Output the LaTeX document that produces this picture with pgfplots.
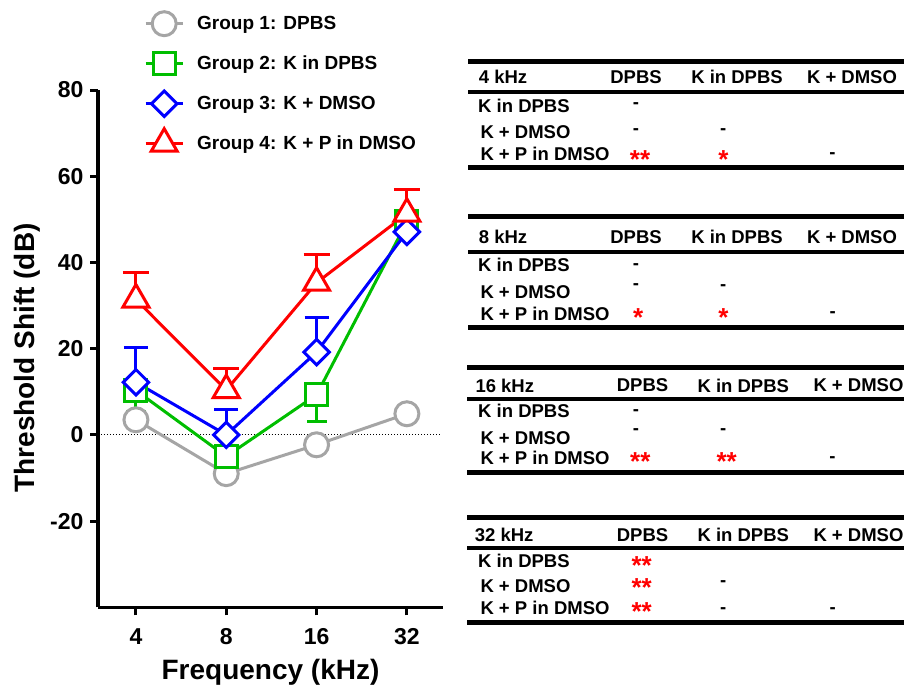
\documentclass[border=0pt]{standalone}
\usepackage{fontspec}
\setmainfont{Liberation Sans}
\usepackage{pgfplots}
\pgfplotsset{compat=1.18}
\newcommand\fs[1]{\fontsize{#1bp}{#1bp}\selectfont\bfseries}
\definecolor{cgray}{RGB}{165,165,165}
\definecolor{cgreen}{RGB}{0,190,0}
\definecolor{cblue}{RGB}{0,0,255}
\definecolor{cred}{RGB}{255,0,0}
\tikzset{
  tt/.style={inner sep=0pt, font=\fs{18.5}, anchor=west},
  th/.style={inner sep=0pt, font=\fs{18.5}, anchor=center},
  ds/.style={inner sep=0pt, font=\fs{18.5}, anchor=base},
  st/.style={inner sep=0pt, font=\fs{26}, anchor=base, text=cred},
}
\begin{document}
\begin{tikzpicture}
\path[use as bounding box] (0bp,0bp) rectangle (904bp,-687bp);
\begin{axis}[
  at={(98bp,-607.3bp)}, anchor=south west,
  scale only axis, width=345bp, height=517.3bp,
  xmin=-0.42, xmax=3.4, ymin=-40, ymax=80,
  axis x line*=bottom, axis y line*=left,
  axis line style={line width=3bp, -},
  every outer x axis line/.append style={-},
  every outer y axis line/.append style={-},
  xtick={0,1,2,3}, xticklabels={4,8,16,32},
  ytick={-20,0,20,40,60,80},
  tick align=outside, major tick length=8bp,
  tick style={line width=3bp, black},
  ticklabel style={font=\fs{23}},
  xticklabel style={yshift=-10bp},
  yticklabel style={xshift=-3bp},
  /pgf/number format/assume math mode=true,
  xlabel={Frequency (kHz)}, ylabel={Threshold Shift (dB)},
  every axis x label/.style={at={(axis description cs:0.5,-0.125)}, anchor=center, font=\fs{28}},
  every axis y label/.style={at={(axis description cs:-0.206,0.482)}, rotate=90, anchor=center, font=\fs{28}},
  clip=false,
  legend style={at={(axis description cs:0.1377,1.1479)}, anchor=north west, draw=none, fill=none,
    inner sep=0pt, row sep=20bp, column sep=12.5bp, font=\fs{19}, cells={anchor=west}},
  legend image code/.code={%
    \begin{pgfinterruptboundingbox}
    \draw[mark repeat=2,mark phase=2] plot coordinates {(0bp,0bp) (18.5bp,0bp) (37bp,0bp)};
    \end{pgfinterruptboundingbox}
    \path[draw=none, fill=none] (0bp,-10bp) rectangle (37bp,10bp);},
]
\addplot[black, line width=1bp, dotted, forget plot] coordinates {(-0.42,0) (3.39,0)};
\addplot[cgray, line width=3bp, mark=*, mark size=12bp, mark options={solid, fill=white, draw=cgray}]
  table[x=x, y=y] {
x y
0 3.5
1 -9.0
2 -2.3
3 4.9
};
\addlegendentry{Group 1: DPBS}
\addplot[cgreen, line width=3bp, mark=square*, mark size=11bp, mark options={solid, fill=white, draw=cgreen},
  error bars/.cd, y dir=minus, y explicit, error bar style={line width=3bp, solid, cgreen},
  error mark=-, error mark options={rotate=90, line width=3bp, mark size=10bp, cgreen}]
  table[x=x, y=y, y error=e] {
x y e
0 10.3 4.8
1 -5.0 2.7
2 9.3 6.2
3 49.4 1.5
};
\addlegendentry{Group 2: K in DPBS}
\addplot[cblue, line width=3bp, mark=square*, mark size=9bp, mark options={solid, fill=white, draw=cblue, rotate=45},
  error bars/.cd, y dir=plus, y explicit, error bar style={line width=3bp, solid, cblue},
  error mark=-, error mark options={rotate=90, line width=3bp, mark size=12bp, cblue}]
  table[x=x, y=y, y error=e] {
x y e
0 12.2 8.0
1 0.0 6.0
2 19.2 8.0
3 47.1 1.5
};
\addlegendentry{Group 3: K + DMSO}
\addplot[cred, line width=3bp, mark=triangle*, mark size=15bp, mark options={solid, fill=white, draw=cred},
  error bars/.cd, y dir=plus, y explicit, error bar style={line width=3bp, solid, cred},
  error mark=-, error mark options={rotate=90, line width=3bp, mark size=13bp, cred}]
  table[x=x, y=y, y error=e] {
x y e
0 31.4 6.2
1 10.4 5.0
2 35.3 6.6
3 51.3 5.7
};
\addlegendentry{Group 4: K + P in DMSO}
\end{axis}
% ---- table 4 kHz
\draw[line width=5bp] (468bp,-61.7bp) -- (904bp,-61.7bp);
\draw[line width=4bp] (468bp,-91.7bp) -- (904bp,-91.7bp);
\draw[line width=5bp] (468bp,-167.3bp) -- (904bp,-167.3bp);
\node[tt] at (478.7bp,-76.7bp) {4 kHz};
\node[th] at (636bp,-76.7bp) {DPBS};
\node[th] at (737bp,-76.7bp) {K in DPBS};
\node[th] at (852bp,-76.7bp) {K + DMSO};
\node[tt] at (478bp,-106.3bp) {K in DPBS};
\node[tt] at (480.3bp,-132.2bp) {K + DMSO};
\node[tt] at (480.3bp,-154.2bp) {K + P in DMSO};
\node[ds] at (636bp,-108.2bp) {-};
\node[ds] at (636bp,-134.9bp) {-};
\node[ds] at (723.3bp,-134.9bp) {-};
\node[ds] at (832.5bp,-158.2bp) {-};
\node[st] at (640bp,-168.1bp) {**};
\node[st] at (723.3bp,-168.1bp) {*};
% ---- table 8 kHz
\draw[line width=5bp] (468bp,-216.3bp) -- (904bp,-216.3bp);
\draw[line width=4bp] (468bp,-252bp) -- (904bp,-252bp);
\draw[line width=5bp] (468bp,-327bp) -- (904bp,-327bp);
\node[tt] at (478.7bp,-236.7bp) {8 kHz};
\node[th] at (636bp,-236.7bp) {DPBS};
\node[th] at (737bp,-236.7bp) {K in DPBS};
\node[th] at (852bp,-236.7bp) {K + DMSO};
\node[tt] at (478bp,-265.3bp) {K in DPBS};
\node[tt] at (480.3bp,-292bp) {K + DMSO};
\node[tt] at (480.3bp,-314bp) {K + P in DMSO};
\node[ds] at (636bp,-269.9bp) {-};
\node[ds] at (636bp,-289.9bp) {-};
\node[ds] at (723.3bp,-290.9bp) {-};
\node[ds] at (832.7bp,-317.6bp) {-};
\node[st] at (638.3bp,-326.5bp) {*};
\node[st] at (723.3bp,-326.5bp) {*};
% ---- table 16 kHz
\draw[line width=5bp] (467bp,-367.3bp) -- (904bp,-367.3bp);
\draw[line width=4bp] (467bp,-398.5bp) -- (904bp,-398.5bp);
\draw[line width=5bp] (467bp,-472.8bp) -- (904bp,-472.8bp);
\node[tt] at (475.3bp,-385.4bp) {16 kHz};
\node[th] at (642.5bp,-385.4bp) {DPBS};
\node[th] at (743.3bp,-385.4bp) {K in DPBS};
\node[tt] at (813.3bp,-385.4bp) {K + DMSO};
\node[tt] at (478bp,-410.8bp) {K in DPBS};
\node[tt] at (480.3bp,-438bp) {K + DMSO};
\node[tt] at (480.3bp,-457.5bp) {K + P in DMSO};
\node[ds] at (636bp,-415.9bp) {-};
\node[ds] at (636bp,-434.4bp) {-};
\node[ds] at (723.3bp,-434.9bp) {-};
\node[ds] at (832.5bp,-462.9bp) {-};
\node[st] at (640.3bp,-470.3bp) {**};
\node[st] at (726.7bp,-470.3bp) {**};
% ---- table 32 kHz
\draw[line width=5bp] (467bp,-517bp) -- (904bp,-517bp);
\draw[line width=4bp] (467bp,-547.7bp) -- (904bp,-547.7bp);
\draw[line width=5bp] (467bp,-622.7bp) -- (904bp,-622.7bp);
\node[tt] at (474.7bp,-535bp) {32 kHz};
\node[th] at (642.5bp,-535bp) {DPBS};
\node[th] at (743.3bp,-535bp) {K in DPBS};
\node[tt] at (813.3bp,-535bp) {K + DMSO};
\node[tt] at (478bp,-561.3bp) {K in DPBS};
\node[tt] at (480.3bp,-586.5bp) {K + DMSO};
\node[tt] at (480.3bp,-607.7bp) {K + P in DMSO};
\node[st] at (641.7bp,-574.3bp) {**};
\node[st] at (641.7bp,-596.8bp) {**};
\node[st] at (641.7bp,-620.8bp) {**};
\node[ds] at (723.3bp,-586.6bp) {-};
\node[ds] at (723.3bp,-613.2bp) {-};
\node[ds] at (832.7bp,-613.2bp) {-};
\end{tikzpicture}
\end{document}
